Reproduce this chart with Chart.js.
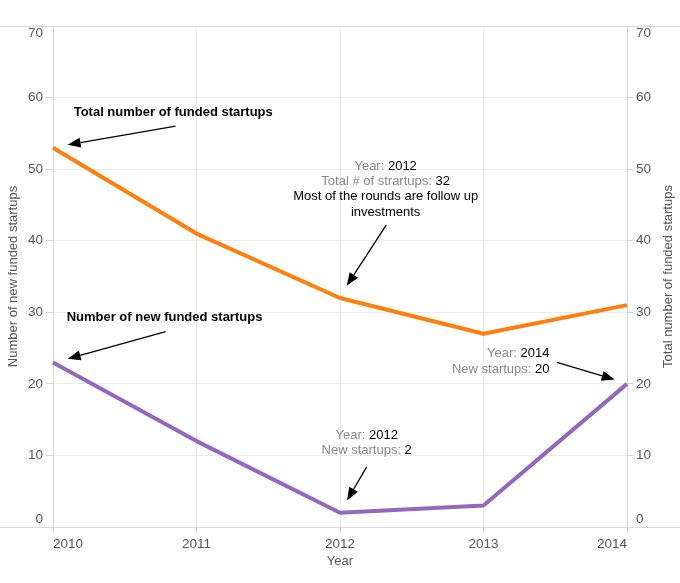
<!DOCTYPE html>
<html lang="en">
<head>
<meta charset="UTF-8" />
<title>Funded startups by year</title>
<script src="https://cdn.jsdelivr.net/npm/chart.js"></script>
<style>
  body {
    margin: 0;
    background: #fff;
  }
  #startupChart {
    display: block;
  }
</style>
</head>
<body>

<canvas id="startupChart" width="680" height="583"></canvas>

<script>
// data
var years = ["2010", "2011", "2012", "2013", "2014"];
var newStartups = [23, 12, 2, 3, 20];
var totalStartups = [53, 41, 32, 27, 31];
var yTicks = [0, 10, 20, 30, 40, 50, 60, 70];
var rightTitle = "Total number of funded startups";

var GREY = "#888888";
var BLACK = "#000000";

// callouts, anchored in data units (x = year index, y = value)
var notes = [
  { x: 0.144, y: 57.9, align: "left", bold: true,
    lines: [[["Total number of funded startups", BLACK]]],
    arrow: [0.854, 56.0, 0.102, 53.4] },
  { x: 0.095, y: 29.3, align: "left", bold: true,
    lines: [[["Number of new funded startups", BLACK]]],
    arrow: [0.785, 27.3, 0.102, 23.5] },
  { x: 2.318, y: 50.4, align: "center", bold: false,
    lines: [
      [["Year: ", GREY], ["2012", BLACK]],
      [["Total # of strartups: ", GREY], ["32", BLACK]],
      [["Most of the rounds are follow up", BLACK]],
      [["investments", BLACK]]
    ],
    arrow: [2.323, 42.2, 2.047, 33.7] },
  { x: 2.186, y: 12.8, align: "center", bold: false,
    lines: [
      [["Year: ", GREY], ["2012", BLACK]],
      [["New startups: ", GREY], ["2", BLACK]]
    ],
    arrow: [2.186, 8.4, 2.049, 3.7] },
  { x: 3.46, y: 24.2, align: "right", bold: false,
    lines: [
      [["Year: ", GREY], ["2014", BLACK]],
      [["New startups: ", GREY], ["20", BLACK]]
    ],
    arrow: [3.512, 23.0, 3.914, 20.6] }
];

Chart.defaults.font.family = "'Liberation Sans', Arial, sans-serif";
Chart.defaults.color = "#666";

// full width top rule and baseline, like the original frame, plus the right title read bottom-up
var framePlugin = {
  id: "frame",
  beforeDraw: function(chart) {
    // keep the end labels inside the plot band
    ["y", "y1"].forEach(function(id) {
      var items = chart.scales[id].getLabelItems(chart.chartArea);
      items.forEach(function(it) {
        if (it.label === "0") it.options.translation[1] -= 8;
        if (it.label === "70") it.options.translation[1] += 7;
      });
    });
  },
  beforeDatasetsDraw: function(chart) {
    var ctx = chart.ctx, area = chart.chartArea;
    ctx.save();
    ctx.strokeStyle = "#d9d9d9";
    ctx.lineWidth = 1;
    ctx.beginPath();
    ctx.moveTo(0, area.top + 0.5);
    ctx.lineTo(chart.width, area.top + 0.5);
    ctx.moveTo(0, area.bottom + 0.5);
    ctx.lineTo(chart.width, area.bottom + 0.5);
    ctx.stroke();
    ctx.translate(chart.width - 12, (area.top + area.bottom) / 2);
    ctx.rotate(-Math.PI / 2);
    ctx.font = "13px 'Liberation Sans', Arial, sans-serif";
    ctx.fillStyle = "#555";
    ctx.textAlign = "center";
    ctx.textBaseline = "middle";
    ctx.fillText(rightTitle, 0, 0);
    ctx.restore();
  }
};

function drawArrow(ctx, x1, y1, x2, y2) {
  var ang = Math.atan2(y2 - y1, x2 - x1);
  var len = 13, half = 5;
  var bx = x2 - len * Math.cos(ang), by = y2 - len * Math.sin(ang);
  ctx.beginPath();
  ctx.moveTo(x1, y1);
  ctx.lineTo(bx, by);
  ctx.stroke();
  ctx.beginPath();
  ctx.moveTo(x2, y2);
  ctx.lineTo(bx + half * Math.sin(ang), by - half * Math.cos(ang));
  ctx.lineTo(bx - half * Math.sin(ang), by + half * Math.cos(ang));
  ctx.closePath();
  ctx.fill();
}

var notePlugin = {
  id: "notes",
  afterDatasetsDraw: function(chart) {
    var ctx = chart.ctx, xs = chart.scales.x, ys = chart.scales.y;
    notes.forEach(function(n) {
      var px = xs.getPixelForValue(n.x);
      var py = ys.getPixelForValue(n.y);
      ctx.save();
      ctx.font = (n.bold ? "bold " : "") + "13px 'Liberation Sans', Arial, sans-serif";
      ctx.textBaseline = "middle";
      ctx.textAlign = "left";
      n.lines.forEach(function(line, i) {
        var w = 0;
        line.forEach(function(seg) { w += ctx.measureText(seg[0]).width; });
        var sx = n.align === "left" ? px : (n.align === "right" ? px - w : px - w / 2);
        line.forEach(function(seg) {
          ctx.fillStyle = seg[1];
          ctx.fillText(seg[0], sx, py + i * 15.3);
          sx += ctx.measureText(seg[0]).width;
        });
      });
      ctx.strokeStyle = "#000";
      ctx.fillStyle = "#000";
      ctx.lineWidth = 1.3;
      var a = n.arrow;
      drawArrow(ctx, xs.getPixelForValue(a[0]), ys.getPixelForValue(a[1]),
                xs.getPixelForValue(a[2]), ys.getPixelForValue(a[3]));
      ctx.restore();
    });
  }
};

function setYTicks(axis) {
  axis.ticks = yTicks.map(function(v) { return { value: v }; });
}

var ctx = document.getElementById("startupChart").getContext("2d");

var myChart = new Chart(ctx, {
  type: "line",
  data: {
    labels: years,
    datasets: [
      {
        label: "Total number of funded startups",
        data: totalStartups,
        yAxisID: "y1",
        borderColor: "#ff7f0e",
        borderWidth: 4,
        pointRadius: 0,
        tension: 0,
        borderJoinStyle: "round"
      },
      {
        label: "Number of new funded startups",
        data: newStartups,
        yAxisID: "y",
        borderColor: "#9467bd",
        borderWidth: 4,
        pointRadius: 0,
        tension: 0,
        borderJoinStyle: "round"
      }
    ]
  },
  options: {
    responsive: false,
    animation: false,
    layout: { padding: { top: 26, left: 0, right: 0, bottom: 0 } },
    plugins: {
      legend: { display: false },
      tooltip: { enabled: false }
    },
    scales: {
      x: {
        afterFit: function(s) { s.height = 56; },
        grid: { color: "#ebebeb", tickColor: "#d0d0d0", tickLength: 6 },
        border: { color: "#d9d9d9" },
        ticks: { align: "inner", padding: 3, maxRotation: 0, font: { size: 13.5 }, color: "#555" },
        title: { display: true, text: "Year", font: { size: 13 }, color: "#555", padding: { top: 0, bottom: 14 } }
      },
      y: {
        position: "left",
        min: 0,
        max: 70,
        afterFit: function(s) { s.width = 53; },
        afterBuildTicks: setYTicks,
        grid: { color: "#ebebeb", tickColor: "#d0d0d0", tickLength: 7 },
        border: { color: "#d9d9d9" },
        ticks: { padding: 3, font: { size: 13.5 }, color: "#555" },
        title: { display: true, text: "Number of new funded startups", font: { size: 13 }, color: "#555", padding: { top: 6, bottom: 0 } }
      },
      y1: {
        position: "right",
        min: 0,
        max: 70,
        afterFit: function(s) { s.width = 53; },
        afterBuildTicks: setYTicks,
        grid: { drawOnChartArea: false, tickColor: "#d0d0d0", tickLength: 6 },
        border: { color: "#d9d9d9" },
        ticks: { padding: 3, font: { size: 13.5 }, color: "#555" }
      }
    }
  },
  plugins: [framePlugin, notePlugin]
});
</script>

</body>
</html>
